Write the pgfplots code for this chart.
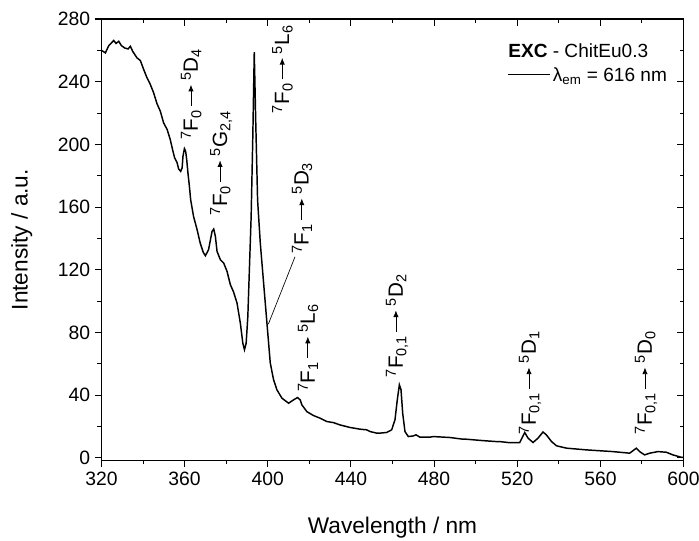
\documentclass[border=0pt]{standalone}
\usepackage{pgfplots}
\pgfplotsset{compat=1.18}
\usepackage{fontspec}
\setmainfont{Liberation Sans}
\usetikzlibrary{arrows.meta}
\newsavebox\arr
\newcommand{\tr}[5]{\textsuperscript{#1}F\textsubscript{#2}\,\usebox\arr\,\textsuperscript{#3}#4\textsubscript{#5}}
\begin{document}
\sbox\arr{\tikz[baseline=-5.2pt]\draw[line width=0.6pt,-{Latex[length=5pt,width=4pt]}] (0,0)--(16pt,0);}%
\begin{tikzpicture}
\pgfplotsset{
  common/.style={
    width=436.5pt, height=331pt, scale only axis,
    xmin=320, xmax=600, ymin=-1.6, ymax=280,
    xtick={320,360,...,600}, ytick={0,40,...,280},
    minor x tick num=1, minor y tick num=1,
    axis line style={line width=0.9pt},
    every tick/.style={line width=0.8pt, black},
    major tick length=5pt, minor tick length=3pt,
  }
}
\begin{axis}[common,
  name=ax,
  tick align=outside,
  xtick pos=bottom, ytick pos=left,
  /pgf/number format/assume math mode=true,
  ticklabel style={font=\fontsize{14.5}{16}\selectfont},
  xlabel={Wavelength / nm}, ylabel={Intensity / a.u.},
  label style={font=\fontsize{17}{20}\selectfont},
  xlabel style={at={(axis description cs:0.5,-0.152)},anchor=center},
  ylabel style={at={(axis description cs:-0.137,0.5)},anchor=center},
  clip=false,
]
\addplot[black, line width=1.1pt] coordinates {
(320,260) (321.9,258.4) (323.5,263) (325.9,266.3) (327,264.4) (328.3,265.8) (329.6,263) (331.2,261.5) (332.8,260.9) (333.9,262.6) (335,259.4) (337.1,255.2) (338.7,253.5) (340.3,247.8) (341.9,242.5) (343.5,238.2) (345.1,232.9) (346.7,226) (348.3,221.2) (349.9,213.7) (351.6,209.5) (353.1,203) (354.2,196.7) (355.2,191.4) (356.4,188.2) (357.1,184.4) (358.1,182.8) (358.8,185) (359.2,192.4) (359.9,197.3) (360.5,195.6) (361,190.3) (361.6,181.8) (362.3,173.2) (362.9,164.7) (364.3,154) (366,145.6) (367.5,137) (369,131) (370,129) (371.5,132.8) (373.2,144.5) (374,146) (374.8,141.3) (375.6,131.7) (377.2,126.4) (378.8,124.3) (380.4,119) (382,110.5) (383.5,106) (385.2,98.8) (386.8,86) (388,73.2) (388.8,69) (389.6,73.2) (390.4,90) (391.2,122) (392,154) (392.8,205) (393.5,258.8) (394.2,215) (395.1,164.5) (396.4,137) (398,111.5) (399.6,86) (401.2,60.5) (402.8,49.8) (404.4,43.4) (406.8,38.1) (410,34.9) (412.4,37) (414.3,38.5) (415.6,37) (416.4,33.8) (418.8,29.5) (422,27) (425.2,25.3) (428.4,23.2) (431.6,22.5) (434.8,21) (439.6,19.4) (444.4,18.3) (447.6,17.9) (449.2,16.8) (452.4,15.8) (454,15.8) (457.2,16.2) (459.6,17.9) (461.2,24.3) (462.3,37) (463.3,46.6) (464.1,43.4) (464.9,28.5) (466,16.8) (467.6,13.6) (470,14.0) (471.3,14.7) (473.2,13.2) (478,13.2) (479.6,13.6) (487.6,13.0) (494,11.9) (495.6,11.9) (503.6,11.0) (510,10.4) (511.6,10.4) (515.6,9.8) (521.2,9.8) (522.5,13.2) (523.6,16.2) (525.2,12.6) (527.6,9.8) (530,12.6) (532.4,16.5) (534,14.7) (536.5,10.4) (538.9,7.7) (543.7,6.2) (553.3,5.1) (566.1,4.0) (574.1,3.0) (577.3,6.2) (578.9,4.0) (581.3,1.9) (583.7,3.0) (587.7,4.0) (591.7,3.6) (594.9,1.9) (598.9,0.4) (600,0.3)
};
\draw[line width=0.5pt] (axis cs:413.1,128.3) -- (axis cs:400.3,85.4);
\begin{scope}[every node/.style={rotate=90, anchor=center, inner sep=0pt, font=\fontsize{15.5}{18}\selectfont}]
\node at (axis cs:363.2,232) {\tr{7}{0}{5}{D}{4}};
\node at (axis cs:377.6,188) {\tr{7}{0}{5}{G}{2,4}};
\node at (axis cs:407.1,248) {\tr{7}{0}{5}{L}{6}};
\node at (axis cs:416.5,159.4) {\tr{7}{1}{5}{D}{3}};
\node at (axis cs:419.4,70.2) {\tr{7}{1}{5}{L}{6}};
\node at (axis cs:462.2,84.2) {\tr{7}{0,1}{5}{D}{2}};
\node at (axis cs:526.2,47.8) {\tr{7}{0,1}{5}{D}{1}};
\node at (axis cs:582,47.8) {\tr{7}{0,1}{5}{D}{0}};
\end{scope}
\node[anchor=base west, inner sep=0pt, font=\fontsize{14.3}{17}\selectfont] at (axis cs:515.6,255.7) {\textbf{EXC} - ChitEu0.3};
\node[anchor=base west, inner sep=0pt, font=\fontsize{14.3}{17}\selectfont] at (axis cs:515.6,240) {\rule[0.33em]{31pt}{1pt}\,λ\textsubscript{em} = 616 nm};
\end{axis}
\begin{axis}[common,
  tick align=inside,
  xtick pos=top, ytick pos=right,
  xticklabels={}, yticklabels={},
]
\end{axis}
\pgfresetboundingbox
\path ([shift={(-76.1pt,-60.4pt)}]ax.south west) rectangle ([shift={(11.6pt,14.25pt)}]ax.north east);
\end{tikzpicture}
\end{document}
